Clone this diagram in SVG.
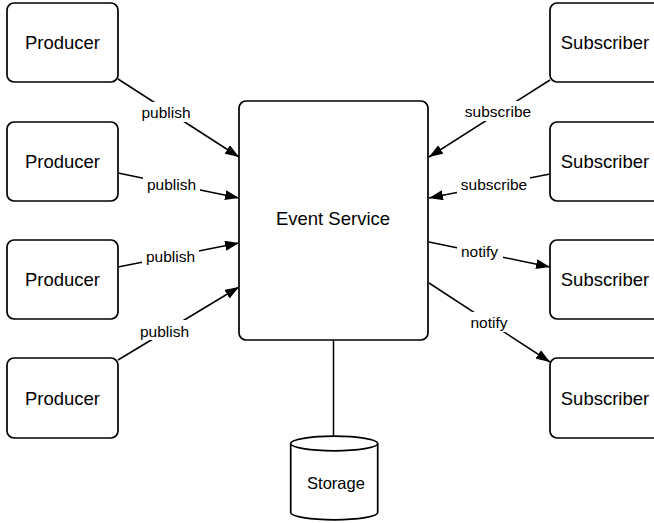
<svg xmlns="http://www.w3.org/2000/svg" width="654" height="523" viewBox="0 0 654 523">
  <defs>
    <marker id="arrow" viewBox="0 0 14 10" refX="14" refY="5" markerWidth="14" markerHeight="10" markerUnits="userSpaceOnUse" orient="auto">
      <path d="M0,0 L14,5 L0,10 Z" fill="#000"/>
    </marker>
    <style>
      .box { fill: #fff; stroke: #000; stroke-width: 1.7; }
      .node-text { font-family: "Liberation Sans", Arial, sans-serif; font-size: 18.5px; fill: #000; text-anchor: middle; }
      .edge { fill: none; stroke: #000; stroke-width: 1.5; }
      .label-bg { fill: #fff; }
      .label { font-family: "Liberation Sans", Arial, sans-serif; font-size: 15.5px; fill: #000; text-anchor: middle; }
      .store-text { font-family: "Liberation Sans", Arial, sans-serif; font-size: 16.5px; fill: #000; text-anchor: middle; }
    </style>
  </defs>
  <rect width="654" height="523" fill="#fff"/>

  <!-- connectors -->
  <g id="connectors">
    <line class="edge" x1="118" y1="79" x2="239" y2="157" marker-end="url(#arrow)"/>
    <line class="edge" x1="118" y1="173" x2="239" y2="198" marker-end="url(#arrow)"/>
    <line class="edge" x1="118" y1="267" x2="239" y2="243" marker-end="url(#arrow)"/>
    <line class="edge" x1="118" y1="360" x2="239" y2="287" marker-end="url(#arrow)"/>
    <line class="edge" x1="550" y1="80" x2="429" y2="157" marker-end="url(#arrow)"/>
    <line class="edge" x1="550" y1="174" x2="429" y2="198" marker-end="url(#arrow)"/>
    <line class="edge" x1="429" y1="242" x2="550" y2="267" marker-end="url(#arrow)"/>
    <line class="edge" x1="429" y1="283" x2="550" y2="362" marker-end="url(#arrow)"/>
    <line class="edge" x1="333.5" y1="340" x2="333.5" y2="437"/>

    <!-- edge labels -->
    <rect class="label-bg" x="138" y="102" width="56" height="20"/>
    <text class="label" x="166" y="118">publish</text>
    <rect class="label-bg" x="143" y="174" width="57" height="20"/>
    <text class="label" x="171.5" y="190">publish</text>
    <rect class="label-bg" x="142" y="245" width="57" height="20"/>
    <text class="label" x="170.5" y="261.5">publish</text>
    <rect class="label-bg" x="136" y="320" width="57" height="20"/>
    <text class="label" x="164.5" y="336.5">publish</text>

    <rect class="label-bg" x="462" y="101" width="72" height="20"/>
    <text class="label" x="498" y="117">subscribe</text>
    <rect class="label-bg" x="457" y="174" width="73" height="20"/>
    <text class="label" x="494" y="190">subscribe</text>
    <rect class="label-bg" x="457" y="241" width="46" height="20"/>
    <text class="label" x="479.5" y="257">notify</text>
    <rect class="label-bg" x="466" y="312" width="46" height="20"/>
    <text class="label" x="489" y="328">notify</text>
  </g>

  <!-- producers -->
  <g id="producer-1">
    <rect class="box" x="7" y="3" width="111" height="79" rx="7"/>
    <text class="node-text" x="62.5" y="49">Producer</text>
  </g>
  <g id="producer-2">
    <rect class="box" x="7" y="122" width="111" height="79" rx="7"/>
    <text class="node-text" x="62.5" y="168">Producer</text>
  </g>
  <g id="producer-3">
    <rect class="box" x="7" y="240" width="111" height="79" rx="7"/>
    <text class="node-text" x="62.5" y="286">Producer</text>
  </g>
  <g id="producer-4">
    <rect class="box" x="7" y="358" width="111" height="80" rx="7"/>
    <text class="node-text" x="62.5" y="404.5">Producer</text>
  </g>

  <!-- event service -->
  <g id="event-service">
    <rect class="box" x="239" y="101" width="189" height="239" rx="7"/>
    <text class="node-text" x="333" y="225">Event Service</text>
  </g>

  <!-- subscribers -->
  <g id="subscriber-1">
    <rect class="box" x="550" y="3" width="111" height="79" rx="7"/>
    <text class="node-text" x="605" y="49">Subscriber</text>
  </g>
  <g id="subscriber-2">
    <rect class="box" x="550" y="122" width="111" height="79" rx="7"/>
    <text class="node-text" x="605" y="168">Subscriber</text>
  </g>
  <g id="subscriber-3">
    <rect class="box" x="550" y="240" width="111" height="79" rx="7"/>
    <text class="node-text" x="605" y="286">Subscriber</text>
  </g>
  <g id="subscriber-4">
    <rect class="box" x="550" y="358" width="111" height="80" rx="7"/>
    <text class="node-text" x="605" y="404.5">Subscriber</text>
  </g>

  <!-- storage cylinder -->
  <g id="storage">
    <path class="box" d="M290.7,443.5 A43.5,7.3 0 0 1 377.7,443.5 L377.7,512.5 A43.5,7.3 0 0 1 290.7,512.5 Z"/>
    <path class="box" fill="none" d="M290.7,443.5 A43.5,7.3 0 0 0 377.7,443.5"/>
    <text class="store-text" x="336" y="488.5">Storage</text>
  </g>
</svg>
